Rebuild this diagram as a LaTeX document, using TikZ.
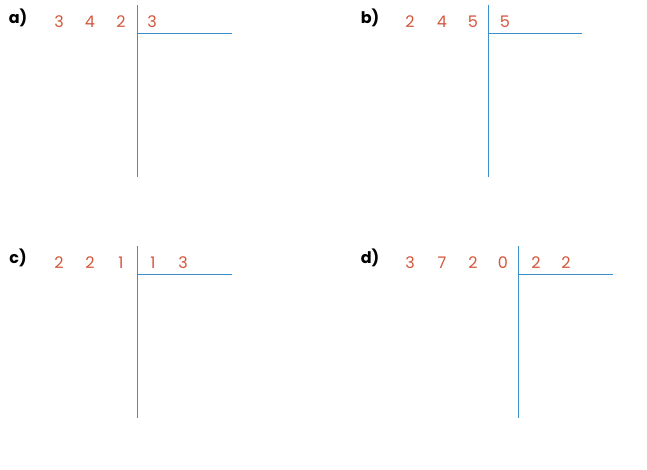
\documentclass[tikz,border=0pt]{standalone}
\usepackage{fontspec}
\setmainfont{Poppins}
\usepackage{xcolor}
\definecolor{digitred}{HTML}{D4563A}
\definecolor{lineblue}{HTML}{3D8FCB}
\tikzset{
  digit/.style={text=digitred,font=\fontsize{16}{16}\selectfont,inner sep=0pt,anchor=center},
  tag/.style={text=black,font=\bfseries\fontsize{16}{16}\selectfont,inner sep=0pt,anchor=center},
  bar/.style={lineblue,line width=0.9pt}
}
\begin{document}
\begin{tikzpicture}[x=1pt,y=-1pt]
            \useasboundingbox (0,0) rectangle (647,470);
            % a)
            \node[tag] (ta) at (18,18) {a)};
            \node[digit] (a1) at (59,22) {3};
            \node[digit] (a2) at (90,22) {4};
            \node[digit] (a3) at (121,22) {2};
            \node[digit] (a4) at (152,22) {3};
            \coordinate (atop) at (137,5);
            \coordinate (abot) at (137,177);
            \coordinate (amid) at (137,33);
            \coordinate (aend) at (232,33);
            \draw[bar] (atop)--(abot);
            \draw[bar] (amid)--(aend);
            % b)
            \node[tag] (tb) at (370,18) {b)};
            \node[digit] (b1) at (410,22) {2};
            \node[digit] (b2) at (442,22) {4};
            \node[digit] (b3) at (473,22) {5};
            \node[digit] (b4) at (505,22) {5};
            \coordinate (btop) at (488,5);
            \coordinate (bbot) at (488,177);
            \coordinate (bmid) at (488,33);
            \coordinate (bend) at (582,33);
            \draw[bar] (btop)--(bbot);
            \draw[bar] (bmid)--(bend);
            % c)
            \node[tag] (tc) at (18,258) {c)};
            \node[digit] (c1) at (59,263) {2};
            \node[digit] (c2) at (90,263) {2};
            \node[digit] (c3) at (121,263) {1};
            \node[digit] (c4) at (153,263) {1};
            \node[digit] (c5) at (183,263) {3};
            \coordinate (ctop) at (137,246);
            \coordinate (cbot) at (137,418);
            \coordinate (cmid) at (137,274);
            \coordinate (cend) at (232,274);
            \draw[bar] (ctop)--(cbot);
            \draw[bar] (cmid)--(cend);
            % d)
            \node[tag] (td) at (370,258) {d)};
            \node[digit] (d1) at (410,263) {3};
            \node[digit] (d2) at (442,263) {7};
            \node[digit] (d3) at (473,263) {2};
            \node[digit] (d4) at (503,263) {0};
            \node[digit] (d5) at (536,263) {2};
            \node[digit] (d6) at (566,263) {2};
            \coordinate (dtop) at (518,246);
            \coordinate (dbot) at (518,418);
            \coordinate (dmid) at (518,274);
            \coordinate (dend) at (613,274);
            \draw[bar] (dtop)--(dbot);
            \draw[bar] (dmid)--(dend);
        \end{tikzpicture}
\end{document}
